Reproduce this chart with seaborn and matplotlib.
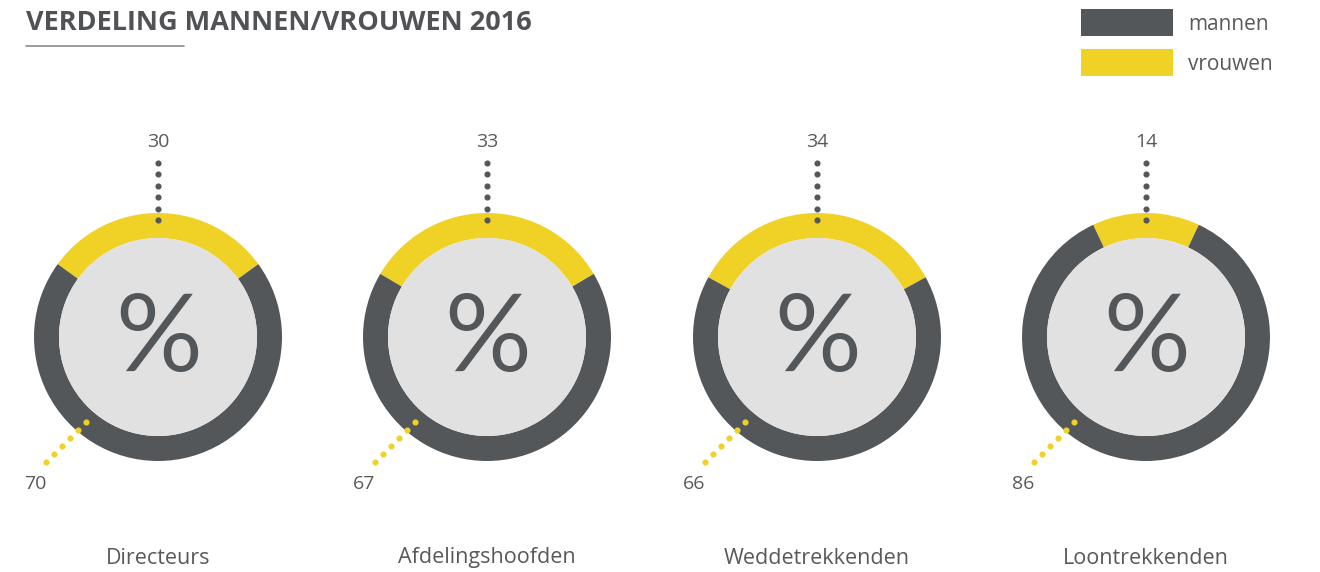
import matplotlib
matplotlib.use("Agg")
import matplotlib.pyplot as plt
import seaborn as sns
import numpy as np

sns.set_theme(style="white")
plt.rcParams['font.family'] = ['Open Sans', 'DejaVu Sans']

categories = ["Directeurs", "Afdelingshoofden", "Weddetrekkenden", "Loontrekkenden"]
mannen = [70, 67, 66, 86]
vrouwen = [30, 33, 34, 14]
series_labels = ["mannen", "vrouwen"]
title = "VERDELING MANNEN/VROUWEN 2016"

DARK = "#54575A"
YELLOW = "#F0D125"
LIGHT = "#E1E1E1"
TEXT = "#58595B"

W, H = 1320, 572
fig = plt.figure(figsize=(13.2, 5.72), dpi=100)
ax = fig.add_axes([0, 0, 1, 1])

def Y(y):
    return H - y

centers_x = [158, 487, 817, 1146]
cy = 337
R_out, R_in = 124, 99

for cx, cat, m, v in zip(centers_x, categories, mannen, vrouwen):
    ax.pie([v, m], colors=[YELLOW, DARK], startangle=90 - v * 3.6 / 2,
           counterclock=True, center=(cx, Y(cy)), radius=R_out,
           wedgeprops=dict(width=R_out - R_in, linewidth=0), frame=True)
    ax.pie([1], colors=[LIGHT], center=(cx, Y(cy)), radius=R_in,
           wedgeprops=dict(linewidth=0), frame=True)
    ax.text(cx + 1, Y(cy + 3), "%", ha="center", va="center", fontsize=78,
            color=DARK, family=["Lato", "DejaVu Sans"])
    # vrouwen marker (top dotted leader)
    ys = np.linspace(cy - 117, cy - 174, 6)
    ax.plot([cx] * 6, [Y(y) for y in ys], linestyle="none", marker="o",
            markersize=3.4, color=DARK)
    ax.text(cx, Y(142), f"{v}", ha="center", va="center", fontsize=14, color=TEXT)
    # mannen marker (bottom-left dotted leader)
    dxs = np.linspace(-72, -112, 6)
    dys = np.linspace(85, 125, 6)
    ax.plot(cx + dxs, [Y(cy + d) for d in dys], linestyle="none", marker="o",
            markersize=3.4, color=YELLOW)
    ax.text(cx - 123, Y(484), f"{m}", ha="center", va="center", fontsize=14, color=TEXT)
    ax.text(cx, Y(558), cat, ha="center", va="center", fontsize=15.5, color=TEXT)

# Title
ax.text(26, Y(23), title, ha="left", va="center", fontsize=19.5, fontweight="bold", color="#505256")
ax.plot([26, 184], [Y(46), Y(46)], color="#8A8B8D", linewidth=1.2)

# Legend
for i, (lab, col) in enumerate(zip(series_labels, [DARK, YELLOW])):
    y0 = 9 + i * 40
    ax.add_patch(plt.Rectangle((1081, Y(y0 + 27)), 92, 27, color=col, linewidth=0))
    ax.text(1188, Y(y0 + 15), lab, ha="left", va="center", fontsize=15, color=TEXT)

ax.set_xlim(0, W)
ax.set_ylim(0, H)
ax.set_aspect("equal")
ax.axis("off")
fig.savefig("out.png", dpi=100, facecolor="white")
